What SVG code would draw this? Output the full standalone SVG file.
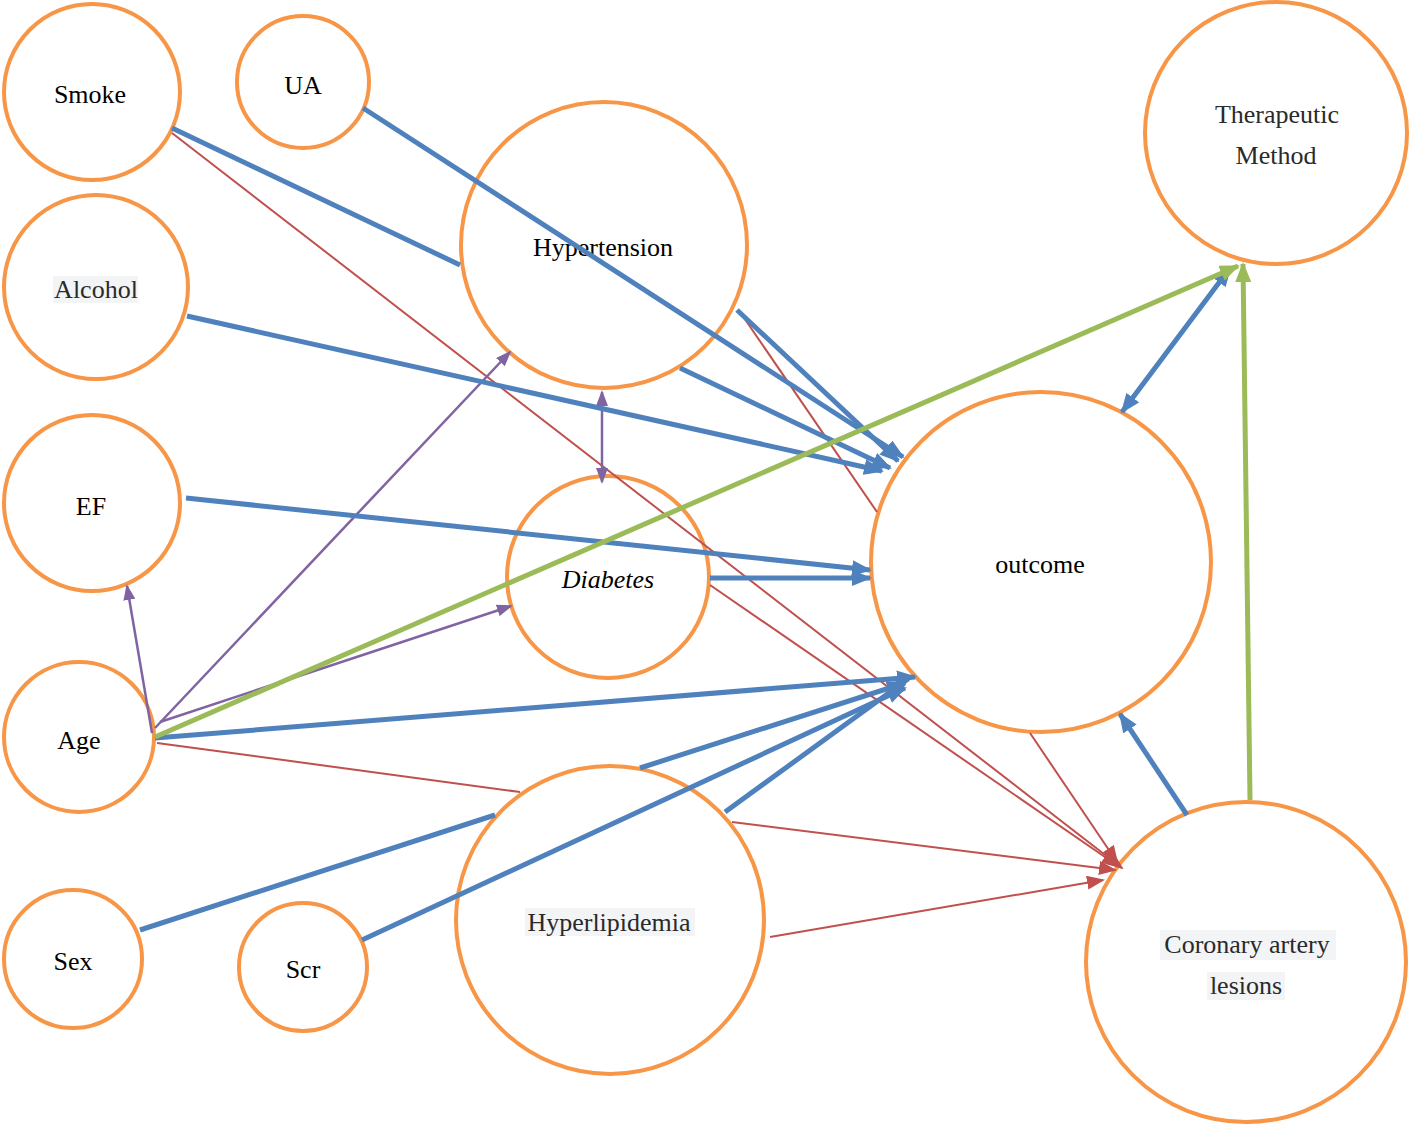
<svg xmlns="http://www.w3.org/2000/svg" width="1409" height="1126" viewBox="0 0 1409 1126">
<style>
.node{fill:#fff;stroke:#F79646;stroke-width:4}
.lbl{font-family:"Liberation Serif","Times New Roman",serif;font-size:26px;fill:#000;text-anchor:middle}
.grey{fill:#2a2a2a}
.hl{fill:#f2f4f6}
.b{stroke:#4F81BD;stroke-width:5;fill:none}
.g{stroke:#9BBB59;stroke-width:5;fill:none}
.r{stroke:#C0504D;stroke-width:2;fill:none}
.p{stroke:#8064A2;stroke-width:2.5;fill:none}
</style>
<defs>
<marker id="ab" markerUnits="userSpaceOnUse" markerWidth="20" markerHeight="16" refX="18" refY="8" orient="auto-start-reverse"><path d="M0,0 L20,8 L0,16 z" fill="#4F81BD"/></marker>
<marker id="ag" markerUnits="userSpaceOnUse" markerWidth="20" markerHeight="16" refX="18" refY="8" orient="auto"><path d="M0,0 L20,8 L0,16 z" fill="#9BBB59"/></marker>
<marker id="ar" markerUnits="userSpaceOnUse" markerWidth="18" markerHeight="14" refX="16" refY="7" orient="auto"><path d="M0,0 L18,7 L0,14 z" fill="#C0504D"/></marker>
<marker id="ap" markerUnits="userSpaceOnUse" markerWidth="16" markerHeight="12" refX="14" refY="6" orient="auto-start-reverse"><path d="M0,0 L16,6 L0,12 z" fill="#8064A2"/></marker>
</defs>
<rect width="1409" height="1126" fill="#fff"/>
<g id="nodes">
<g id="smoke"><circle class="node" cx="92" cy="92" r="88"/><text class="lbl" x="90" y="103">Smoke</text></g>
<g id="ua"><circle class="node" cx="303" cy="82" r="66"/><text class="lbl" x="303" y="94">UA</text></g>
<g id="hypertension"><circle class="node" cx="604" cy="245" r="143"/><text class="lbl" x="603" y="256">Hypertension</text></g>
<g id="therapeutic"><circle class="node" cx="1276" cy="133" r="131"/><text class="lbl grey" x="1277" y="123">Therapeutic</text><text class="lbl grey" x="1276" y="164">Method</text></g>
<g id="alcohol"><circle class="node" cx="96" cy="287" r="92"/><rect class="hl" x="53" y="276" width="85" height="27"/><text class="lbl grey" x="96" y="298">Alcohol</text></g>
<g id="ef"><circle class="node" cx="92" cy="503" r="88"/><text class="lbl" x="91" y="515">EF</text></g>
<g id="diabetes"><circle class="node" cx="608" cy="577" r="101"/><text class="lbl" x="608" y="588" font-style="italic">Diabetes</text></g>
<g id="outcome"><circle class="node" cx="1041" cy="562" r="170"/><text class="lbl" x="1040" y="573">outcome</text></g>
<g id="age"><circle class="node" cx="79" cy="737" r="75"/><text class="lbl" x="79" y="749">Age</text></g>
<g id="sex"><circle class="node" cx="73" cy="959" r="69"/><text class="lbl" x="73" y="970">Sex</text></g>
<g id="scr"><circle class="node" cx="303" cy="967" r="64"/><text class="lbl" x="303" y="978">Scr</text></g>
<g id="hyperlipidemia"><circle class="node" cx="610" cy="920" r="154"/><rect class="hl" x="525" y="908" width="170" height="28"/><text class="lbl grey" x="609" y="931">Hyperlipidemia</text></g>
<g id="coronary"><circle class="node" cx="1246" cy="962" r="160"/><rect class="hl" x="1160" y="930" width="176" height="30"/><rect class="hl" x="1207" y="972" width="78" height="28"/><text class="lbl grey" x="1247" y="953">Coronary artery</text><text class="lbl grey" x="1246" y="994">lesions</text></g>
</g>
<g id="connectors">
<path class="r" d="M172,133 L1122,868" marker-end="url(#ar)"/>
<path class="r" d="M740,312 L877,512"/>
<path class="r" d="M1030,733 L1117,862" marker-end="url(#ar)"/>
<path class="r" d="M710,585 L1118,866" marker-end="url(#ar)"/>
<path class="r" d="M157,743 L520,792"/>
<path class="r" d="M732,822 L1115,870" marker-end="url(#ar)"/>
<path class="r" d="M770,937 L1103,880" marker-end="url(#ar)"/>
<path class="p" d="M152,733 L127,586" marker-end="url(#ap)"/>
<path class="p" d="M155,728 L510,352" marker-end="url(#ap)"/>
<path class="p" d="M160,722 L511,606" marker-end="url(#ap)"/>
<path class="p" d="M602,392 L602,482" marker-start="url(#ap)" marker-end="url(#ap)"/>
<path class="b" d="M363,108 L903,457" marker-end="url(#ab)"/>
<path class="b" d="M172,128 L460,265"/>
<path class="b" d="M680,368 L890,468" marker-end="url(#ab)"/>
<path class="b" d="M737,310 L898,461" marker-end="url(#ab)"/>
<path class="b" d="M187,316 L882,471" marker-end="url(#ab)"/>
<path class="b" d="M186,498 L870,570" marker-end="url(#ab)"/>
<path class="b" d="M710,578 L870,578" marker-end="url(#ab)"/>
<path class="b" d="M155,738 L915,677" marker-end="url(#ab)"/>
<path class="b" d="M140,930 L495,815"/>
<path class="b" d="M640,768 L905,683" marker-end="url(#ab)"/>
<path class="b" d="M362,940 L905,688" marker-end="url(#ab)"/>
<path class="b" d="M725,812 L908,679" marker-end="url(#ab)"/>
<path class="b" d="M1122,412 L1230,268" marker-start="url(#ab)" marker-end="url(#ab)"/>
<path class="b" d="M1187,815 L1120,714" marker-end="url(#ab)"/>
<path class="g" d="M155,737 L1238,266" marker-end="url(#ag)"/>
<path class="g" d="M1250,800 L1243,264" marker-end="url(#ag)"/>
</g>
</svg>
